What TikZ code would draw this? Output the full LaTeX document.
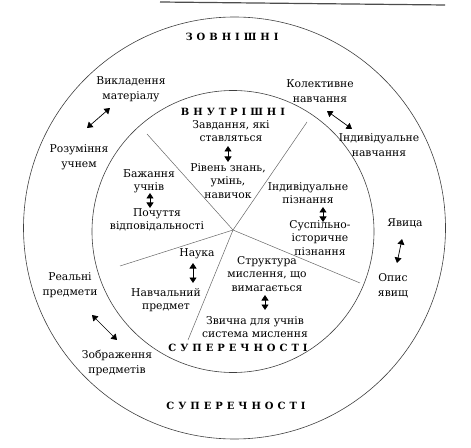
\documentclass[tikz,border=0pt]{standalone}
\usepackage{fontspec}
\setmainfont{DejaVu Serif}
\usetikzlibrary{arrows.meta}
\tikzset{
  ring/.style={draw=black!75, line width=0.6pt},
  spoke/.style={draw=black!60, line width=0.5pt},
  outtxt/.style={align=center, inner sep=0pt, text=black, font=\fontsize{10.8}{15.5}\selectfont},
  intxt/.style={align=center, inner sep=0pt, text=black, font=\fontsize{10.8}{13.2}\selectfont},
  headtxt/.style={inner sep=0pt, text=black, font=\fontsize{10}{12}\selectfont\bfseries\addfontfeatures{LetterSpace=40}},
  dbl/.style={{Triangle[length=5.5bp,width=7bp]}-{Triangle[length=5.5bp,width=7bp]}, line width=0.7pt, black}
}
\begin{document}
\begin{tikzpicture}[x=1bp,y=-1bp]
\useasboundingbox (0,0) rectangle (471,448);
% scan edge line at the top
\coordinate (t1) at (160,2);
\coordinate (t2) at (445,5);
\draw[black!70, line width=1.2pt] (t1) -- (t2);
% circles
\coordinate (oc) at (234.5,228);
\coordinate (ic) at (233,231.5);
\draw[ring] (oc) circle[radius=211bp];
\draw[ring] (ic) circle[radius=141bp];
% spokes
\coordinate (c) at (233,230);
\coordinate (s1) at (147,134);
\coordinate (s2) at (307,122);
\coordinate (s3) at (360,283);
\coordinate (s4) at (188,340);
\coordinate (s5) at (120,266);
\foreach \s in {s1,s2,s3,s4,s5} \draw[spoke] (c) -- (\s);
% headings
\node[headtxt] (zovn) at (232,37) {ЗОВНІШНІ};
\node[headtxt] (vnutr) at (233,112) {ВНУТРІШНІ};
\node[headtxt] (supin) at (238,348) {СУПЕРЕЧНОСТІ};
\node[headtxt] (supout) at (236,406) {СУПЕРЕЧНОСТІ};
% outer ring texts
\node[outtxt] (vykl) at (131,89) {Викладення\\матеріалу};
\node[outtxt] (rozum) at (79,157) {Розуміння\\учнем};
\node[outtxt] (kolekt) at (320,91) {Колективне\\навчання};
\node[outtxt] (indn) at (379,145) {Індивідуальне\\навчання};
\node[outtxt] (yav) at (405,223) {Явица};
\node[outtxt] (opys) at (393,286) {Опис\\явищ};
\node[outtxt] (real) at (70,285) {Реальні\\предмети};
\node[outtxt] (zobr) at (117,363) {Зображення\\предметів};
% inner texts
\node[intxt] (zavd) at (231,131) {Завдання, які\\ставляться};
\node[intxt] (riven) at (228,181) {Рівень знань,\\умінь,\\навичок};
\node[intxt] (bazh) at (149,181) {Бажання\\учнів};
\node[intxt] (poch) at (157,220) {Почуття\\відповідальності};
\node[intxt] (indp) at (308,193) {Індивідуальне\\пізнання};
\node[intxt] (susp) at (320,238) {Суспільно-\\історичне\\пізнання};
\node[intxt] (nauka) at (197,254) {Наука};
\node[intxt] (navch) at (166,300) {Навчальний\\предмет};
\node[intxt] (strukt) at (267,274) {Структура\\мислення, що\\вимагається};
\node[intxt] (zvych) at (255,327) {Звична для учнів\\система мислення};
% arrows
\coordinate (a1s) at (110,108); \coordinate (a1e) at (87,128);
\coordinate (a2s) at (327,111); \coordinate (a2e) at (352,129);
\coordinate (a3s) at (228,146); \coordinate (a3e) at (228,162);
\coordinate (a4s) at (150,193); \coordinate (a4e) at (150,208);
\coordinate (a5s) at (323,207); \coordinate (a5e) at (323,222);
\coordinate (a6s) at (402,239); \coordinate (a6e) at (397,263);
\coordinate (a7s) at (193,263); \coordinate (a7e) at (193,283);
\coordinate (a8s) at (265,295); \coordinate (a8e) at (265,310);
\coordinate (a9s) at (92,315);  \coordinate (a9e) at (117,340);
\foreach \i in {1,...,9} \draw[dbl] (a\i s) -- (a\i e);
\end{tikzpicture}
\end{document}
